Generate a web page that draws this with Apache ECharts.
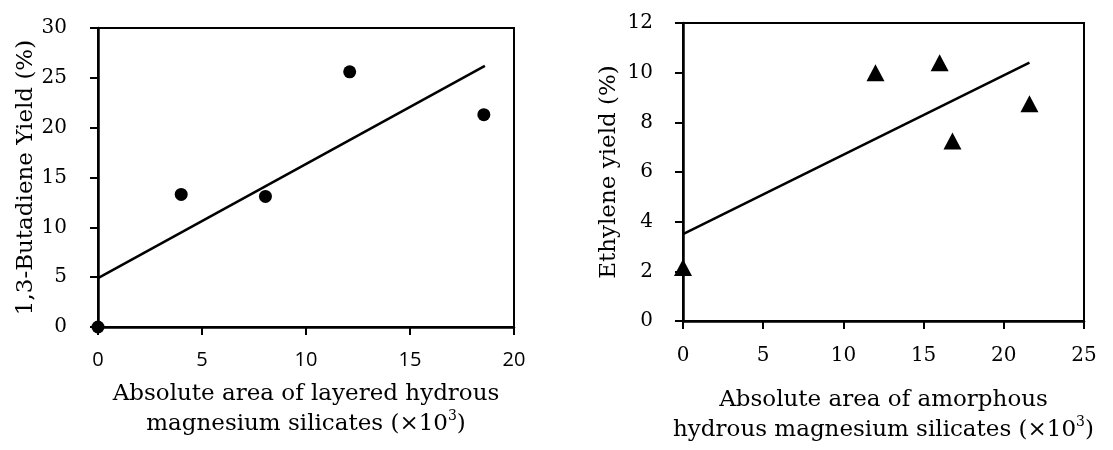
<!DOCTYPE html>
<html>
<head>
<meta charset="utf-8">
<script src="https://cdn.jsdelivr.net/npm/echarts@6/dist/echarts.min.js"></script>
<style>
  html, body { margin: 0; padding: 0; background: #fff; }
  #chart { width: 1113px; height: 450px; }
</style>
</head>
<body>
<div id="chart"></div>
<script>
// left panel: layered hydrous magnesium silicates vs 1,3-butadiene yield
var layeredArea = [0, 4.0, 8.05, 12.1, 18.55];
var butadieneYield = [0, 13.3, 13.1, 25.6, 21.3];
var butadieneTrend = [[0, 4.9], [18.6, 26.2]];
// right panel: amorphous hydrous magnesium silicates vs ethylene yield
var amorphousArea = [0, 12.0, 16.0, 16.8, 21.6];
var ethyleneYield = [2.15, 10.0, 10.4, 7.25, 8.75];
var ethyleneTrend = [[0, 3.5], [21.6, 10.4]];

var serif = "DejaVu Serif";

function pairs(xs, ys) {
  return xs.map(function (x, i) { return [x, ys[i]]; });
}

window.onload = function () {
  var chart = echarts.init(document.getElementById("chart"));

  var axisLine = { show: true, onZero: false, lineStyle: { color: "#000", width: 2.5 } };
  var axisTick = { show: true, inside: false, length: 8, lineStyle: { color: "#000", width: 2 } };
  var supStyle = { fontFamily: serif, fontSize: 14, verticalAlign: "top", lineHeight: 22, color: "#000" };

  var option = {
    backgroundColor: "#fff",
    animation: false,
    grid: [
      { left: 98, right: 599, top: 28, bottom: 123, show: true, borderColor: "#000", borderWidth: 2 },
      { left: 683, right: 29, top: 23, bottom: 127, show: true, borderColor: "#000", borderWidth: 2 }
    ],
    xAxis: [
      {
        gridIndex: 0, type: "value", min: 0, max: 20, interval: 5,
        axisLine: axisLine, axisTick: axisTick, splitLine: { show: false },
        axisLabel: { color: "#000", fontFamily: "Open Sans", fontSize: 20, margin: 23 },
        name: "Absolute area of layered hydrous\nmagnesium silicates (×10{sup|3})",
        nameLocation: "middle", nameGap: 52,
        nameTextStyle: {
          color: "#000", fontFamily: serif, fontSize: 23, lineHeight: 30,
          rich: { sup: supStyle }
        }
      },
      {
        gridIndex: 1, type: "value", min: 0, max: 25, interval: 5,
        axisLine: axisLine, axisTick: axisTick, splitLine: { show: false },
        axisLabel: { color: "#000", fontFamily: serif, fontSize: 20, margin: 25 },
        name: "Absolute area of amorphous\nhydrous magnesium silicates (×10{sup|3})",
        nameLocation: "middle", nameGap: 64,
        nameTextStyle: {
          color: "#000", fontFamily: serif, fontSize: 23, lineHeight: 30,
          rich: { sup: supStyle }
        }
      }
    ],
    yAxis: [
      {
        gridIndex: 0, type: "value", min: 0, max: 30, interval: 5,
        axisLine: axisLine, axisTick: axisTick, splitLine: { show: false },
        axisLabel: { color: "#000", fontFamily: serif, fontSize: 20, margin: 31 },
        name: "1,3-Butadiene Yield (%)", nameLocation: "middle", nameGap: 60,
        nameTextStyle: { color: "#000", fontFamily: serif, fontSize: 23 }
      },
      {
        gridIndex: 1, type: "value", min: 0, max: 12, interval: 2,
        axisLine: axisLine, axisTick: axisTick, splitLine: { show: false },
        axisLabel: { color: "#000", fontFamily: serif, fontSize: 20, margin: 30 },
        name: "Ethylene yield (%)", nameLocation: "middle", nameGap: 62,
        nameTextStyle: { color: "#000", fontFamily: serif, fontSize: 23 }
      }
    ],
    series: [
      {
        type: "line", xAxisIndex: 0, yAxisIndex: 0, data: butadieneTrend,
        symbol: "none", lineStyle: { color: "#000", width: 2.5 }, z: 2
      },
      {
        type: "scatter", xAxisIndex: 0, yAxisIndex: 0, data: pairs(layeredArea, butadieneYield),
        symbol: "circle", symbolSize: 13, itemStyle: { color: "#000", opacity: 1 }, z: 3
      },
      {
        type: "line", xAxisIndex: 1, yAxisIndex: 1, data: ethyleneTrend,
        symbol: "none", lineStyle: { color: "#000", width: 2.5 }, z: 2
      },
      {
        type: "scatter", xAxisIndex: 1, yAxisIndex: 1, data: pairs(amorphousArea, ethyleneYield),
        symbol: "triangle", symbolSize: [18, 17], itemStyle: { color: "#000", opacity: 1 }, z: 3
      }
    ]
  };
  chart.setOption(option);
};
</script>
</body>
</html>
